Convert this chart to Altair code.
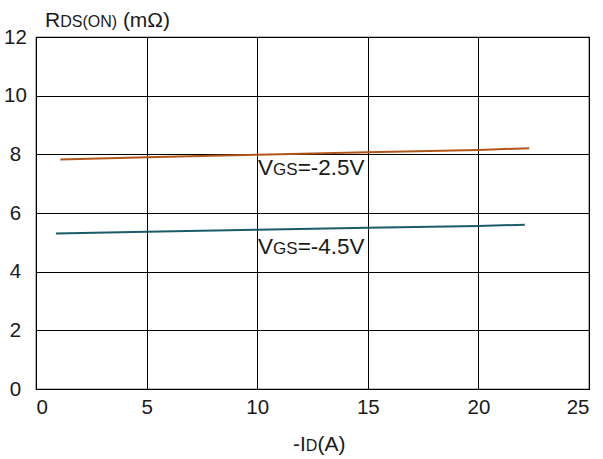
import altair as alt
import pandas as pd

FONT = "Liberation Sans"

# On-resistance vs drain current, read at two gate voltages
id_a = [1.1, 5, 10, 15, 20, 22.3]
rds_25 = [7.82, 7.90, 7.99, 8.07, 8.15, 8.21]
id_b = [0.9, 5, 10, 15, 20, 22.1]
rds_45 = [5.30, 5.36, 5.43, 5.50, 5.56, 5.60]

x_ticks = [0, 5, 10, 15, 20, 25]
y_ticks = [0, 2, 4, 6, 8, 10, 12]

W, H = 553, 352

df = pd.concat([
    pd.DataFrame({"id": id_a, "rds": rds_25, "vgs": "-2.5V"}),
    pd.DataFrame({"id": id_b, "rds": rds_45, "vgs": "-4.5V"}),
])

xs = alt.Scale(domain=[0, 25], nice=False)
ys = alt.Scale(domain=[0, 12], nice=False)

xax = alt.Axis(values=x_ticks, title=None, grid=True, gridColor="#000", gridWidth=1,
               gridOpacity=1, ticks=False, tickSize=0, domain=False, labelFont=FONT,
               labelFontSize=20.5, labelColor="#1a1a1a", labelPadding=8)
yax = alt.Axis(values=y_ticks, title=None, grid=True, gridColor="#000", gridWidth=1,
               gridOpacity=1, ticks=False, tickSize=0, domain=False, labelFont=FONT,
               labelFontSize=20.5, labelColor="#1a1a1a", labelPadding=21,
               labelAlign="center")

lines = alt.Chart(df).mark_line(strokeWidth=2).encode(
    x=alt.X("id:Q", scale=xs, axis=xax),
    y=alt.Y("rds:Q", scale=ys, axis=yax),
    color=alt.Color("vgs:N", scale=alt.Scale(domain=["-2.5V", "-4.5V"],
                                             range=["#b1561a", "#1d5b69"]), legend=None),
    detail="vgs:N",
)

# Curve labels: "V" + small "GS" + "=-x.xV"
lab_x = [10.04, 10.04]
lab_y = [7.31, 4.59]
lab_val = ["=-2.5V", "=-4.5V"]
lab_df = pd.DataFrame({"x": lab_x, "y": lab_y, "v": lab_val})

BIG, SMALL = 22.5, 17
V_W = 0.667 * BIG
GS_W = 1.445 * SMALL


def piece(text_field, size, dx):
    return alt.Chart(lab_df).mark_text(
        align="left", baseline="alphabetic", font=FONT, fontSize=size, dx=dx, color="#1a1a1a"
    ).encode(x=alt.X("x:Q", scale=xs), y=alt.Y("y:Q", scale=ys), text=text_field)


labels = (
    piece(alt.value("V"), BIG, 0)
    + piece(alt.value("GS"), SMALL, V_W)
    + piece("v:N", BIG, V_W + GS_W)
)


def title_piece(text, size, px, py):
    return alt.Chart(lab_df.head(1)).mark_text(
        align="left", baseline="alphabetic", font=FONT, fontSize=size, color="#1a1a1a"
    ).encode(x=alt.value(px), y=alt.value(py), text=alt.value(text))


# Axis titles with subscript-style small letters
TB, TS = 21, 16
y_title = (
    title_piece("R", TB, 9, -10)
    + title_piece("DS(ON)", TS, 9 + 0.722 * TB, -10)
    + title_piece("(mΩ)", TB, 9 + 0.722 * TB + 3.555 * TS + 0.278 * TB, -10)
)
x_title = (
    title_piece("-I", TB, 257, 414)
    + title_piece("D", TS, 257 + 0.611 * TB, 414)
    + title_piece("(A)", TB, 257 + 0.611 * TB + 0.722 * TS, 414)
)

chart = (lines + labels + y_title + x_title).properties(
    width=W, height=H,
    autosize=alt.AutoSizeParams(type="none"),
    padding={"left": 36, "top": 37, "right": 14, "bottom": 70},
    background="white",
).configure_view(stroke="#000", strokeWidth=1.2)

chart.save("out.html", embed_options={"renderer": "svg", "actions": False})
